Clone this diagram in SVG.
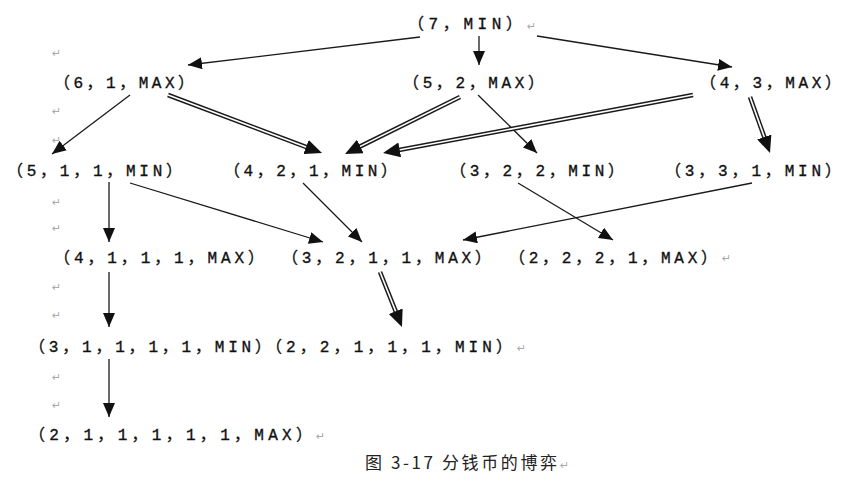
<svg xmlns="http://www.w3.org/2000/svg" width="860" height="477" viewBox="0 0 860 477">
<style>
.t{font-family:"Liberation Mono","Noto Sans CJK SC",monospace;font-size:16px;fill:#111;stroke:#111;stroke-width:0.35}
.cap{font-family:"Noto Sans CJK SC","Liberation Sans",sans-serif;font-size:17px;fill:#222}
.pm{font-family:"DejaVu Sans",sans-serif;font-size:11px;fill:#a8a8a8}
.thin{fill:none;stroke:#1a1a1a;stroke-width:1.3}
.dbo{fill:none;stroke:#1a1a1a;stroke-width:4.6}
.dbi{fill:none;stroke:#fff;stroke-width:1.6}
</style>
<defs>
<marker id="ah" markerUnits="userSpaceOnUse" markerWidth="14" markerHeight="12" refX="14" refY="6" orient="auto">
<path d="M0,0 L14,6 L0,12 z" fill="#111"/>
</marker>
<marker id="ahb" markerUnits="userSpaceOnUse" markerWidth="17" markerHeight="15" refX="9" refY="7.5" orient="auto">
<path d="M0,0 L17,7.5 L0,15 z" fill="#111"/>
</marker>
</defs>
<rect width="860" height="477" fill="#fff"/>

<g id="connectors">
<path class="thin" d="M420,37 L188,65" marker-end="url(#ah)"/>
<path class="thin" d="M479,36 L479,65" marker-end="url(#ah)"/>
<path class="thin" d="M537,36 L732,67" marker-end="url(#ah)"/>
<path class="thin" d="M130,95 L52,154" marker-end="url(#ah)"/>
<path class="thin" d="M478,95 L537,153" marker-end="url(#ah)"/>
<path class="thin" d="M109,182 L109,242" marker-end="url(#ah)"/>
<path class="thin" d="M130,183 L323,242" marker-end="url(#ah)"/>
<path class="thin" d="M303,183 L362,242" marker-end="url(#ah)"/>
<path class="thin" d="M518,183 L613,240" marker-end="url(#ah)"/>
<path class="thin" d="M752,183 L463,240" marker-end="url(#ah)"/>
<path class="thin" d="M109,272 L109,327" marker-end="url(#ah)"/>
<path class="thin" d="M109,359 L109,417" marker-end="url(#ah)"/>
<path class="dbo" d="M168,95 L314.5,150.2"/>
<path class="dbi" d="M168,95 L314.5,150.2" marker-end="url(#ahb)"/>
<path class="dbo" d="M460,97 L352.2,150.4"/>
<path class="dbi" d="M460,97 L352.2,150.4" marker-end="url(#ahb)"/>
<path class="dbo" d="M693,95 L390.9,151.5"/>
<path class="dbi" d="M693,95 L390.9,151.5" marker-end="url(#ahb)"/>
<path class="dbo" d="M750,97 L767.3,145.5"/>
<path class="dbi" d="M750,97 L767.3,145.5" marker-end="url(#ahb)"/>
<path class="dbo" d="M380,272 L399,319.6"/>
<path class="dbi" d="M380,272 L399,319.6" marker-end="url(#ahb)"/>
</g>

<g id="n-7-min"><text class="t" x="408" y="29" textLength="114" lengthAdjust="spacing">（7，MIN）</text></g>
<g id="n-6-1-max"><text class="t" x="54" y="88" textLength="140" lengthAdjust="spacing">（6，1，MAX）</text></g>
<g id="n-5-2-max"><text class="t" x="403" y="88" textLength="141" lengthAdjust="spacing">（5，2，MAX）</text></g>
<g id="n-4-3-max"><text class="t" x="700" y="88" textLength="141" lengthAdjust="spacing">（4，3，MAX）</text></g>
<g id="n-5-1-1-min"><text class="t" x="7" y="176" textLength="175" lengthAdjust="spacing">（5，1，1，MIN）</text></g>
<g id="n-4-2-1-min"><text class="t" x="224" y="176" textLength="173" lengthAdjust="spacing">（4，2，1，MIN）</text></g>
<g id="n-3-2-2-min"><text class="t" x="450" y="176" textLength="174" lengthAdjust="spacing">（3，2，2，MIN）</text></g>
<g id="n-3-3-1-min"><text class="t" x="665" y="176" textLength="176" lengthAdjust="spacing">（3，3，1，MIN）</text></g>
<g id="n-4-1-1-1-max"><text class="t" x="54" y="263" textLength="210" lengthAdjust="spacing">（4，1，1，1，MAX）</text></g>
<g id="n-3-2-1-1-max"><text class="t" x="282" y="263" textLength="209" lengthAdjust="spacing">（3，2，1，1，MAX）</text></g>
<g id="n-2-2-2-1-max"><text class="t" x="509" y="263" textLength="208" lengthAdjust="spacing">（2，2，2，1，MAX）</text></g>
<g id="n-3-1-1-1-1-min"><text class="t" x="29" y="352" textLength="242" lengthAdjust="spacing">（3，1，1，1，1，MIN）</text></g>
<g id="n-2-2-1-1-1-min"><text class="t" x="266" y="352" textLength="246" lengthAdjust="spacing">（2，2，1，1，1，MIN）</text></g>
<g id="n-2-1-1-1-1-1-max"><text class="t" x="29" y="440" textLength="283" lengthAdjust="spacing">（2，1，1，1，1，1，MAX）</text></g>

<g id="caption"><text class="cap" x="365" y="469" textLength="192" lengthAdjust="spacing">图 3-17 分钱币的博弈</text></g>

<g id="paragraph-marks">
<text class="pm" x="527" y="30">↵</text>
<text class="pm" x="52" y="57">↵</text>
<text class="pm" x="52" y="115">↵</text>
<text class="pm" x="52" y="144">↵</text>
<text class="pm" x="52" y="206">↵</text>
<text class="pm" x="52" y="232">↵</text>
<text class="pm" x="722" y="262">↵</text>
<text class="pm" x="52" y="291">↵</text>
<text class="pm" x="52" y="319">↵</text>
<text class="pm" x="517" y="352">↵</text>
<text class="pm" x="52" y="381">↵</text>
<text class="pm" x="52" y="409">↵</text>
<text class="pm" x="316" y="440">↵</text>
<text class="pm" x="560" y="469">↵</text>
</g>
</svg>
